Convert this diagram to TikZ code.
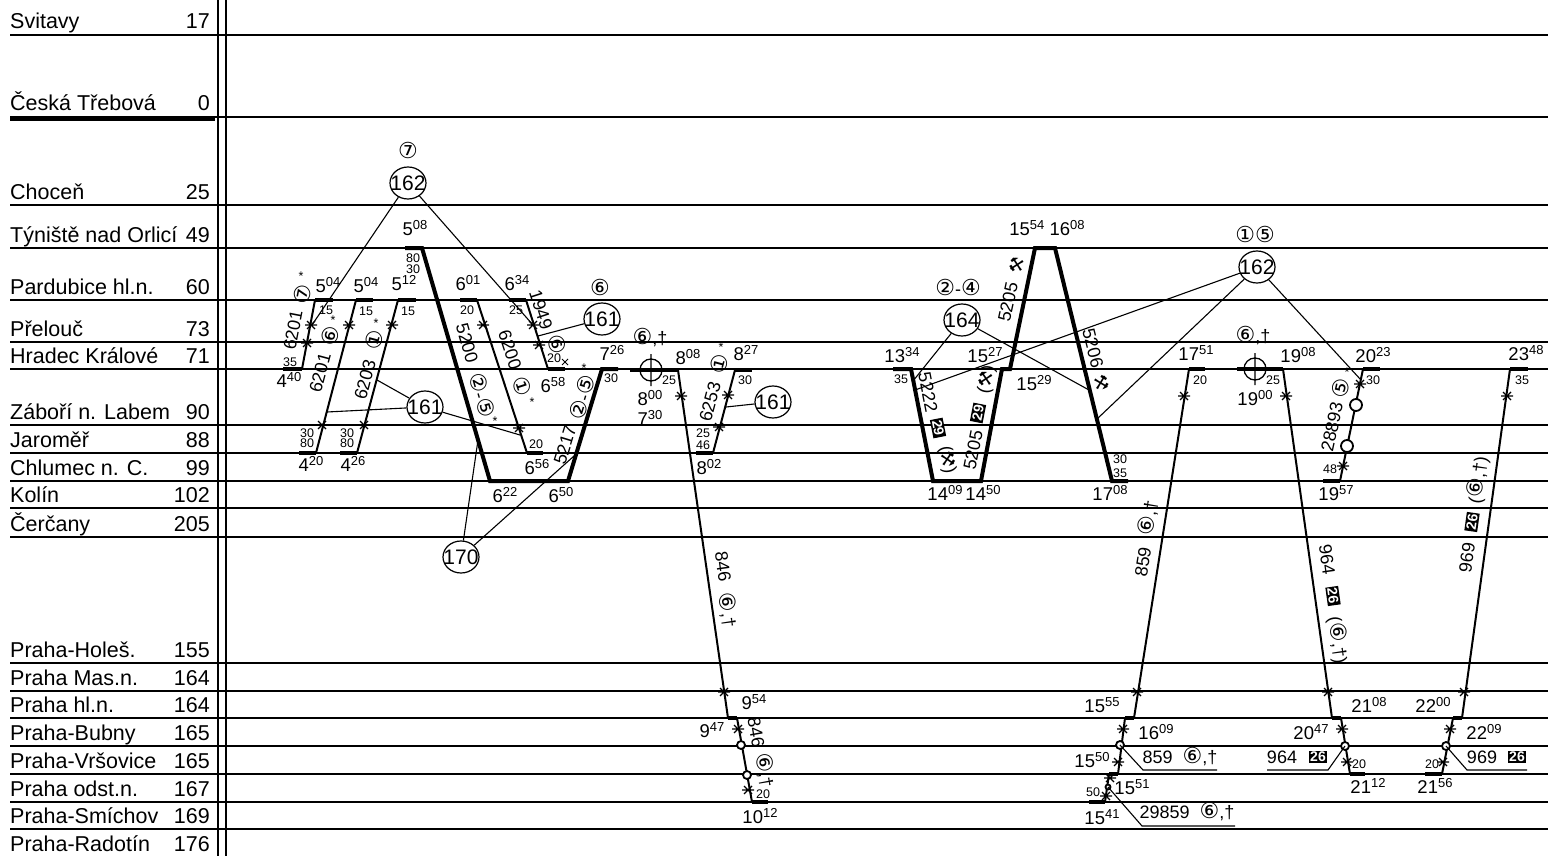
\documentclass[tikz,border=0pt]{standalone}
\usepackage{fontspec}
\setmainfont{Liberation Sans}
\newfontfamily\dvs{DejaVu Sans}
\usetikzlibrary{shapes.geometric}

\newcommand{\tm}[2]{#1\raisebox{6pt}{\fontsize{13}{13}\selectfont #2}}
\newcommand{\cd}[1]{{\dvs\fontsize{22}{22}\selectfont #1}}
\newcommand{\hmr}{{\dvs ⚒}}
\newcommand{\rf}[1]{\makebox[16pt]{#1}}

\tikzset{
	grid/.style={line width=1.3pt},
	trn/.style={line width=2pt},
	fast/.style={line width=4pt},
	stub/.style={line width=4pt},
	conn/.style={line width=1.1pt},
	stn/.style={font=\fontsize{21.5}{21.5}\selectfont, inner sep=0pt},
	tt/.style={font=\fontsize{18.5}{18.5}\selectfont, inner sep=0pt},
	sm/.style={font=\fontsize{12.5}{12.5}\selectfont, inner sep=0pt},
	tno/.style={font=\fontsize{18}{18}\selectfont, inner sep=0pt},
	ref/.style={draw, ellipse, line width=1.2pt, minimum width=36pt, minimum height=32pt, inner sep=0pt, font=\fontsize{21}{21}\selectfont},
	fn/.style={fill=black, text=white, font=\fontsize{14}{14}\selectfont\bfseries, inner sep=1.5pt},
	dot/.style={line width=1.8pt, fill=white},
	mk/.pic={\draw[line width=1.2pt] (-6,0) -- (6,0) (-4,-4) -- (4,4) (-4,4) -- (4,-4);},
	xc/.pic={\draw[line width=1.3pt] (0,0) circle (11pt) (0,-16) -- (0,16);},
}

\begin{document}
\begin{tikzpicture}[x=1pt,y=-1pt]
\useasboundingbox (0,0) rectangle (1548,856);
% station lines
\foreach \y/\n/\k in {35/Svitavy/17, 117/Česká Třebová/0, 205/Choceň/25, 248/Týniště nad Orlicí/49, 300/Pardubice hl.n./60, 342/Přelouč/73, 369/Hradec Králové/71, 425/Záboří n. Labem/90, 453/Jaroměř/88, 481/Chlumec n. C./99, 508/Kolín/102, 537/Čerčany/205, 663/Praha-Holeš./155, 691/Praha Mas.n./164, 718/Praha hl.n./164, 746/Praha-Bubny/165, 774/Praha-Vršovice/165, 802/Praha odst.n./167, 829/Praha-Smíchov/169, 857/Praha-Radotín/176}{
	\draw[grid] (10,\y) -- (1548,\y);
	\node[stn, anchor=base west] (s\y) at (10,\y-6) {\n};
	\node[stn, anchor=base east] (k\y) at (210,\y-6) {\k};
}
\draw[line width=4pt] (10,119) -- (215,119);
\draw[grid] (218,0) -- (218,856);
\draw[grid] (226,0) -- (226,856);

% morning group
\draw[stub] (315,300) -- (333,300);
\draw[trn] (315,300) -- (302,369);
\draw[stub] (283,369) -- (302,369);
\draw[stub] (356,300) -- (373,300);
\draw[trn] (356,300) -- (316,453);
\draw[stub] (299,453) -- (316,453);
\draw[stub] (398,300) -- (416,300);
\draw[trn] (398,300) -- (357,453);
\draw[stub] (340,453) -- (357,453);
\draw[fast] (405,248) -- (422,248) -- (490,481) -- (568,481) -- (602,369) -- (618,369);
\draw[stub] (460,300) -- (477,300);
\draw[trn] (477,300) -- (527,453);
\draw[stub] (527,453) -- (543,453);
\draw[stub] (509,300) -- (526,300);
\draw[trn] (526,300) -- (548,369);
\draw[stub] (548,369) -- (565,369);
\foreach \p in {(311,325),(307,343),(349,325),(322,425),(392,325),(364,425),(483,325),(519,428),(533,325),(539,345)}
	\pic at \p {mk};
\draw[line width=1pt] (562,359) -- (568,365) (562,365) -- (568,359);

\node[tno, rotate=79] (n6201a) at (293,330) {6201};
\node[tno, rotate=75] (n6201b) at (320,373) {6201};
\node[tno, rotate=75] (n6203) at (365,380) {6203};
\node[tno, rotate=-74] (n5200) at (467,343) {5200};
\node[tno, rotate=-72] (n6200) at (510,350) {6200};
\node[tno, rotate=-72] (n1949) at (541,310) {1949};
\node[tno, rotate=73] (n5217) at (565,445) {5217};
\node[tno, rotate=79] (d7a) at (303,294) {\cd{⑦}};
\node[sm] (a7a) at (301,276) {*};
\node[tno, rotate=75] (d6a) at (330,336) {\cd{⑥}};
\node[sm] (a6a) at (333,320) {*};
\node[tno, rotate=75] (d1a) at (374,340) {\cd{①}};
\node[sm] (a1a) at (376,323) {*};
\node[tno, rotate=-74] (d25a) at (482,395) {\cd{②}-\cd{⑤}};
\node[sm] (a25a) at (495,421) {*};
\node[tno, rotate=-72] (d1b) at (522,386) {\cd{①}};
\node[sm] (a1b) at (532,402) {*};
\node[tno, rotate=-72] (d6b) at (557,344) {\cd{⑥}};
\node[tno, rotate=73] (d25b) at (582,397) {\cd{②}-\cd{⑤}};
\node[sm] (a25b) at (584,368) {*};
\node[tno] (d7top) at (408,150) {\cd{⑦}};
\node[tno] (d6top) at (600,287) {\cd{⑥}};

\node[tt] (t508) at (415,228) {\tm{5}{08}};
\node[sm] (r80a) at (413,258) {80};
\node[sm] (r30a) at (413,269) {30};
\node[tt] (t504a) at (328,285) {\tm{5}{04}};
\node[tt] (t504b) at (366,285) {\tm{5}{04}};
\node[tt] (t512) at (404,283) {\tm{5}{12}};
\node[tt] (t601) at (468,283) {\tm{6}{01}};
\node[tt] (t634) at (517,283) {\tm{6}{34}};
\node[sm] (r15a) at (326,310) {15};
\node[sm] (r15b) at (366,311) {15};
\node[sm] (r15c) at (408,311) {15};
\node[sm] (r20a) at (467,310) {20};
\node[sm] (r25a) at (516,310) {25};
\node[sm] (r35a) at (290,362) {35};
\node[tt] (t440) at (289,380) {\tm{4}{40}};
\node[sm] (r30b) at (307,433) {30};
\node[sm] (r80b) at (307,443) {80};
\node[tt] (t420) at (311,464) {\tm{4}{20}};
\node[sm] (r30c) at (347,433) {30};
\node[sm] (r80c) at (347,443) {80};
\node[tt] (t426) at (353,464) {\tm{4}{26}};
\node[sm] (r20b) at (554,358) {20};
\node[tt] (t658) at (553,385) {\tm{6}{58}};
\node[tt] (t726) at (612,353) {\tm{7}{26}};
\node[sm] (r30d) at (611,378) {30};
\node[sm] (r20c) at (536,444) {20};
\node[tt] (t656) at (537,467) {\tm{6}{56}};
\node[tt] (t622) at (505,495) {\tm{6}{22}};
\node[tt] (t650) at (561,495) {\tm{6}{50}};

\node[ref] (c162a) at (408,183) {\rf{162}};
\node[ref] (c161a) at (425,407) {\rf{161}};
\node[ref] (c161b) at (602,319) {\rf{161}};
\node[ref] (c170) at (461,557) {\rf{170}};
\coordinate (p1) at (312,325);
\coordinate (p2) at (533,325);
\coordinate (p3) at (538,336);
\coordinate (p4) at (377,380);
\coordinate (p5) at (327,412);
\coordinate (p6) at (520,435);
\coordinate (p7) at (478,440);
\coordinate (p8) at (574,456);
\draw[conn] (c162a) -- (p1);
\draw[conn] (c162a) -- (p2);
\draw[conn] (c161b) -- (p3);
\draw[conn] (c161a) -- (p4);
\draw[conn] (c161a) -- (p5);
\draw[conn] (c161a) -- (p6);
\draw[conn] (c170) -- (p7);
\draw[conn] (c170) -- (p8);

% 846 and 6253
\draw[stub] (630,370) -- (678,370);
\pic at (651,370) {xc};
\draw[trn] (678,370) -- (728,718);
\draw[stub] (728,718) -- (737,718);
\draw[trn] (737,718) -- (752,802);
\draw[stub] (752,802) -- (768,802);
\foreach \p in {(681,396),(724,692),(738,729),(748,790)}
	\pic at \p {mk};
\draw[dot] (741,745) circle (4pt);
\draw[dot] (747,775) circle (4pt);
\node[tno] (v846a) at (650,338) {\cd{⑥},†};
\node[tt] (t808) at (688,357) {\tm{8}{08}};
\node[sm] (r25b) at (669,380) {25};
\node[tt] (t800) at (650,398) {\tm{8}{00}};
\node[tt] (t730) at (650,418) {\tm{7}{30}};
\node[tno, rotate=-82] (n846) at (723,567) {846};
\node[tno, rotate=-82] (v846b) at (728,610) {\cd{⑥},†};
\node[tt] (t954) at (754,702) {\tm{9}{54}};
\node[tt] (t947) at (712,730) {\tm{9}{47}};
\node[tno, rotate=-80] (n846b) at (756,732) {846};
\node[tno, rotate=-80] (v846c) at (765,770) {\cd{⑥},†};
\node[sm] (r20d) at (763,794) {20};
\node[tt] (t1012) at (760,816) {\tm{10}{12}};

\draw[stub] (735,370) -- (752,370);
\draw[trn] (735,370) -- (713,453);
\draw[stub] (696,453) -- (713,453);
\pic at (728,395) {mk};
\pic at (719,427) {mk};
\node[tt] (t827) at (746,353) {\tm{8}{27}};
\node[sm] (r30e) at (745,380) {30};
\node[tno, rotate=75] (d1c) at (719,364) {\cd{①}};
\node[sm] (a1c) at (721,347) {*};
\node[tno, rotate=75] (n6253) at (710,402) {6253};
\node[sm] (r25c) at (703,433) {25};
\node[sm] (r46) at (703,445) {46};
\node[tt] (t802) at (709,467) {\tm{8}{02}};
\node[ref] (c161c) at (773,402) {\rf{161}};
\coordinate (p9) at (726,407);
\draw[conn] (c161c) -- (p9);

% afternoon fast trains
\draw[fast] (893,369) -- (911,369) -- (933,481) -- (981,481) -- (1002,369) -- (1010,369) -- (1035,248) -- (1055,248) -- (1112,481) -- (1128,481);
\node[tt] (t1334) at (902,355) {\tm{13}{34}};
\node[sm] (r35b) at (901,379) {35};
\node[tno, rotate=-79] (n5222) at (928,392) {5222};
\node[fn, rotate=-79] (f29a) at (938,428) {29};
\node[tno, rotate=-79] (h1) at (947,460) {(\hmr)};
\node[tno, rotate=79] (n5205a) at (973,450) {5205};
\node[fn, rotate=79] (f29b) at (978,413) {29};
\node[tno, rotate=79] (h2) at (987,380) {(\hmr)};
\node[tt] (t1409) at (945,493) {\tm{14}{09}};
\node[tt] (t1450) at (983,493) {\tm{14}{50}};
\node[tt] (t1527) at (985,355) {\tm{15}{27}};
\node[tt] (t1529) at (1034,383) {\tm{15}{29}};
\node[tno, rotate=78] (n5205b) at (1008,302) {5205};
\node[tno, rotate=78] (h3) at (1017,265) {\hmr};
\node[tt] (t1554) at (1047,228) {\tm{15}{54} \tm{16}{08}};
\node[tno, rotate=-76] (n5206) at (1093,348) {5206};
\node[tno, rotate=-76] (h4) at (1102,383) {\hmr};
\node[sm] (r30f) at (1120,459) {30};
\node[sm] (r35c) at (1120,473) {35};
\node[tt] (t1708) at (1110,493) {\tm{17}{08}};
\node[ref] (c164) at (962,320) {\rf{164}};
\node[tno] (d24) at (958,287) {\cd{②}-\cd{④}};
\coordinate (q1) at (913,381);
\coordinate (q2) at (1089,390);
\draw[conn] (c164) -- (q1);
\draw[conn] (c164) -- (q2);
\node[ref] (c162b) at (1257,267) {\rf{162}};
\node[tno] (d15) at (1255,234) {\cd{①⑤}};
\coordinate (q3) at (915,390);
\coordinate (q4) at (1097,419);
\coordinate (q5) at (1361,380);
\draw[conn] (c162b) -- (q3);
\draw[conn] (c162b) -- (q4);
\draw[conn] (c162b) -- (q5);

% 859
\draw[stub] (1189,369) -- (1205,369);
\draw[trn] (1189,369) -- (1134,718);
\draw[stub] (1125,718) -- (1134,718);
\draw[trn] (1125,718) -- (1118,774);
\draw[stub] (1109,774) -- (1118,774);
\draw[trn] (1109,774) -- (1105,802);
\draw[stub] (1089,802) -- (1105,802);
\foreach \p in {(1184,396),(1137,692),(1123,729),(1118,762),(1110,778),(1106,796)}
	\pic at \p {mk};
\draw[dot] (1120,745) circle (4pt);
\draw[dot] (1108,787) circle (2.5pt);
\node[tt] (t1751) at (1196,353) {\tm{17}{51}};
\node[sm] (r20e) at (1200,380) {20};
\node[tno, rotate=81] (n859) at (1143,562) {859};
\node[tno, rotate=81] (v859) at (1148,518) {\cd{⑥},†};
\node[tt] (t1555) at (1102,705) {\tm{15}{55}};
\node[tt] (t1609) at (1156,732) {\tm{16}{09}};
\node[tt] (t1550) at (1092,760) {\tm{15}{50}};
\node[tt] (t1551) at (1132,787) {\tm{15}{51}};
\node[sm] (r50) at (1093,792) {50};
\node[tt] (t1541) at (1102,817) {\tm{15}{41}};
\node[tno] (l859) at (1180,757) {859\ \ \cd{⑥},†};
\node[tno] (l29859) at (1187,812) {29859\ \ \cd{⑥},†};
\coordinate (u1) at (1143,770);
\coordinate (u2) at (1217,770);
\coordinate (u3) at (1142,826);
\coordinate (u4) at (1235,826);
\draw[conn] (1120,745) -- (u1) -- (u2);
\draw[conn] (1108,787) -- (u3) -- (u4);

% 964
\draw[stub] (1237,369) -- (1283,369);
\pic at (1255,369) {xc};
\draw[trn] (1283,369) -- (1332,718);
\draw[stub] (1332,718) -- (1341,718);
\draw[trn] (1341,718) -- (1350,774);
\draw[stub] (1350,774) -- (1365,774);
\foreach \p in {(1286,396),(1328,692),(1342,729),(1347,762)}
	\pic at \p {mk};
\draw[dot] (1345,746) circle (4pt);
\node[tno] (v964a) at (1253,336) {\cd{⑥},†};
\node[tt] (t1908) at (1298,355) {\tm{19}{08}};
\node[sm] (r25d) at (1273,380) {25};
\node[tt] (t1900) at (1255,398) {\tm{19}{00}};
\node[tno, rotate=-82] (n964) at (1327,560) {964};
\node[fn, rotate=-82] (f26a) at (1333,596) {26};
\node[tno, rotate=-82] (v964b) at (1338,640) {(\cd{⑥},†)};
\node[tt] (t2108) at (1369,705) {\tm{21}{08}};
\node[tt] (t2047) at (1311,732) {\tm{20}{47}};
\node[tno] (l964) at (1282,757) {964};
\node[fn] (f26b) at (1318,757) {26};
\node[sm] (r20f) at (1359,764) {20};
\node[tt] (t2112) at (1368,786) {\tm{21}{12}};
\coordinate (u5) at (1328,770);
\coordinate (u6) at (1267,770);
\draw[conn] (1345,746) -- (u5) -- (u6);

% 28893
\draw[stub] (1363,369) -- (1380,369);
\draw[trn] (1363,369) -- (1340,481);
\draw[stub] (1323,481) -- (1340,481);
\pic at (1360,384) {mk};
\pic at (1343,466) {mk};
\draw[dot] (1356,405) circle (6pt);
\draw[dot] (1347,446) circle (6pt);
\node[tt] (t2023) at (1373,355) {\tm{20}{23}};
\node[sm] (r30g) at (1373,380) {30};
\node[tno, rotate=78] (n28893) at (1332,427) {28893};
\node[tno, rotate=78] (d5) at (1341,388) {\cd{⑤}};
\node[sm] (a5) at (1347,372) {*};
\node[sm] (r48) at (1330,469) {48};
\node[tt] (t1957) at (1336,493) {\tm{19}{57}};

% 969
\draw[stub] (1510,369) -- (1528,369);
\draw[trn] (1510,369) -- (1462,718);
\draw[stub] (1453,718) -- (1462,718);
\draw[trn] (1453,718) -- (1442,774);
\draw[stub] (1425,774) -- (1442,774);
\foreach \p in {(1507,396),(1464,692),(1450,729),(1443,762)}
	\pic at \p {mk};
\draw[dot] (1446,746) circle (4pt);
\node[tt] (t2348) at (1526,353) {\tm{23}{48}};
\node[sm] (r35d) at (1522,380) {35};
\node[tno, rotate=82] (n969) at (1467,558) {969};
\node[fn, rotate=82] (f26c) at (1472,522) {26};
\node[tno, rotate=82] (v969) at (1478,480) {(\cd{⑥},†)};
\node[tt] (t2200) at (1433,705) {\tm{22}{00}};
\node[tt] (t2209) at (1484,732) {\tm{22}{09}};
\node[tno] (l969) at (1482,757) {969};
\node[fn] (f26d) at (1517,757) {26};
\node[sm] (r20g) at (1432,764) {20};
\node[tt] (t2156) at (1435,786) {\tm{21}{56}};
\coordinate (u7) at (1467,770);
\coordinate (u8) at (1527,770);
\draw[conn] (1446,746) -- (u7) -- (u8);
\end{tikzpicture}
\end{document}
